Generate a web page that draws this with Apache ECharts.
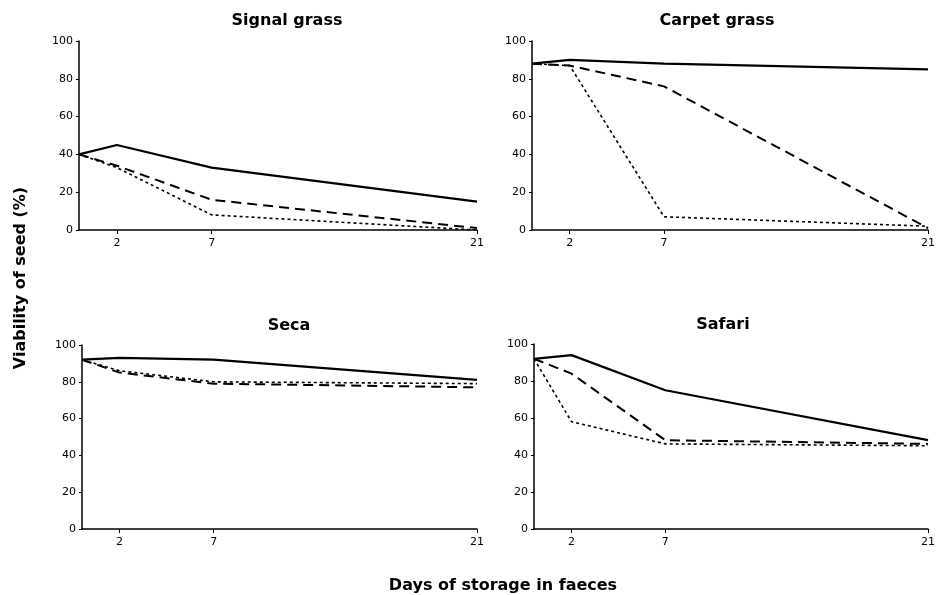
<!DOCTYPE html>
<html>
<head>
<meta charset="utf-8">
<script src="https://cdn.jsdelivr.net/npm/echarts@6/dist/echarts.min.js"></script>
<style>
  html, body { margin: 0; padding: 0; background: #fff; }
  #chart { width: 938px; height: 595px; }
</style>
</head>
<body>
<div id="chart"></div>
<script>
// days of storage
var days = [0, 2, 7, 21];
var dayTicks = [2, 7, 21];
var panelTitles = ['Signal grass', 'Carpet grass', 'Seca', 'Safari'];

// viability (%) per panel: solid, dashed, dotted
var signalSolid  = [40, 45, 33, 15];
var signalDashed = [40, 34, 16, 1];
var signalDotted = [40, 33, 8, 0];

var carpetSolid  = [88, 90, 88, 85];
var carpetDashed = [88, 87, 76, 1];
var carpetDotted = [88, 87, 7, 2];

var secaSolid  = [92, 93, 92, 81];
var secaDashed = [92, 85, 79, 77];
var secaDotted = [92, 86, 80, 79];

var safariSolid  = [92, 94, 75, 48];
var safariDashed = [92, 84, 48, 46];
var safariDotted = [92, 58, 46, 45];

var panels = [
  [signalSolid, signalDashed, signalDotted],
  [carpetSolid, carpetDashed, carpetDotted],
  [secaSolid, secaDashed, secaDotted],
  [safariSolid, safariDashed, safariDotted]
];

// grid boxes in px
var grids = [
  {left: 79, top: 41, width: 398, height: 189},
  {left: 532, top: 41, width: 397, height: 189},
  {left: 82, top: 345, width: 395, height: 184},
  {left: 534, top: 344, width: 395, height: 185}
];
var titleX = [282, 712, 284, 718];
var titleY = [8, 8, 313, 312];

var font = 'DejaVu Sans';

function pairs(arr) {
  return days.map(function (d, i) { return [d, arr[i]]; });
}

var lineKinds = [
  {type: 'solid', width: 2.2},
  {type: [10, 6], width: 2},
  {type: [3, 3], width: 1.6}
];

var xAxes = [], yAxes = [], series = [], titles = [];
grids.forEach(function (g, i) {
  xAxes.push({
    type: 'value', gridIndex: i, min: 0, max: 21,
    axisLine: {lineStyle: {color: '#000', width: 1.5}},
    axisTick: {customValues: dayTicks, length: 4, lineStyle: {color: '#000'}},
    axisLabel: {customValues: dayTicks, color: '#000', fontSize: 11, fontFamily: font, margin: 8},
    splitLine: {show: false}
  });
  yAxes.push({
    type: 'value', gridIndex: i, min: 0, max: 100, interval: 20,
    axisLine: {show: true, lineStyle: {color: '#000', width: 1.5}},
    axisTick: {show: true, length: 3, lineStyle: {color: '#000'}},
    axisLabel: {color: '#000', fontSize: 11, fontFamily: font, margin: 6},
    splitLine: {show: false}
  });
  titles.push({
    text: panelTitles[i],
    left: titleX[i],
    top: titleY[i],
    textAlign: 'center',
    textStyle: {fontFamily: font, fontWeight: 'bold', fontSize: 16, color: '#000'}
  });
  panels[i].forEach(function (vals, k) {
    series.push({
      type: 'line', xAxisIndex: i, yAxisIndex: i,
      data: pairs(vals),
      showSymbol: false, silent: true, animation: false,
      lineStyle: {color: '#000', width: lineKinds[k].width, type: lineKinds[k].type}
    });
  });
});

var chart = echarts.init(document.getElementById('chart'));
chart.setOption({
  backgroundColor: '#fff',
  animation: false,
  title: titles,
  grid: grids,
  xAxis: xAxes,
  yAxis: yAxes,
  series: series,
  graphic: [
    {
      type: 'text', x: 503, y: 586,
      style: {text: 'Days of storage in faeces', font: 'bold 16px "DejaVu Sans"', fill: '#000',
        textAlign: 'center', textVerticalAlign: 'middle'}
    },
    {
      type: 'text', x: 21, y: 278, rotation: Math.PI / 2,
      style: {text: 'Viability of seed (%)', font: 'bold 16px "DejaVu Sans"', fill: '#000',
        textAlign: 'center', textVerticalAlign: 'middle'}
    }
  ]
});
</script>
</body>
</html>
